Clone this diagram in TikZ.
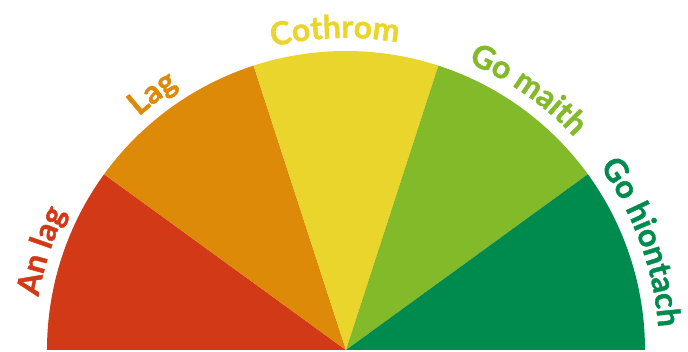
\documentclass[tikz,border=0pt]{standalone}
\usepackage{fontspec}
\setsansfont{Lato}[BoldFeatures={FakeBold=1.2}]
\usepackage{xcolor}
\usepackage{tikz}
\usetikzlibrary{decorations.text}

\definecolor{gaugeRed}{HTML}{D23A17}
\definecolor{gaugeOrange}{HTML}{DC8A07}
\definecolor{gaugeYellow}{HTML}{E9D52B}
\definecolor{gaugeLime}{HTML}{83BA29}
\definecolor{gaugeGreen}{HTML}{008B4E}

\newcommand{\gaugefont}{\sffamily\bfseries\fontsize{32}{34}\selectfont}

\begin{document}
\begin{tikzpicture}[x=1pt,y=1pt]
\useasboundingbox (-346,-2) rectangle (342,350);

% Draw the five sectors of the half disc
\fill[gaugeRed] (0,0) -- (180:299pt) arc (180:144:299pt) -- cycle;
\fill[gaugeOrange] (0,0) -- (144:299pt) arc (144:108:299pt) -- cycle;
\fill[gaugeYellow] (0,0) -- (108:299pt) arc (108:72:299pt) -- cycle;
\fill[gaugeLime] (0,0) -- (72:299pt) arc (72:36:299pt) -- cycle;
\fill[gaugeGreen] (0,0) -- (36:299pt) arc (36:0:299pt) -- cycle;

% Curved labels above the arc
\path[decorate, decoration={text along path, text align=center, text color=gaugeRed,
  text={|\gaugefont|An lag}}] (192:312pt) arc (192:132:312pt);
\path[decorate, decoration={text along path, text align=center, text color=gaugeOrange,
  text={|\gaugefont|Lag}}] (157:312pt) arc (157:97:312pt);
\path[decorate, decoration={text along path, text align=center, text color=gaugeYellow,
  text={|\gaugefont|Cothrom}}] (122:312pt) arc (122:62:312pt);
\path[decorate, decoration={text along path, text align=center, text color=gaugeLime,
  text={|\gaugefont|Go maith}}] (85:312pt) arc (85:25:312pt);
\path[decorate, decoration={text along path, text align=center, text color=gaugeGreen,
  text={|\gaugefont|Go hiontach}}] (50:313pt) arc (50:-10:313pt);

\end{tikzpicture}
\end{document}
